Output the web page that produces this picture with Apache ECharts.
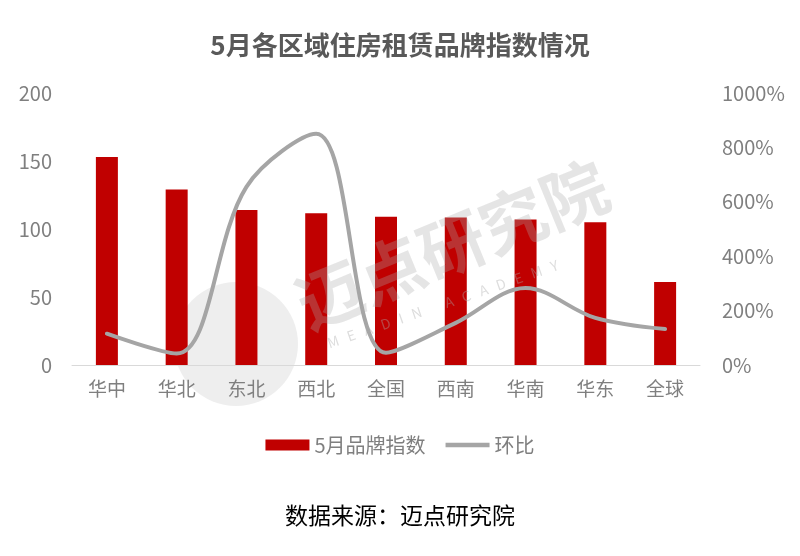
<!DOCTYPE html>
<html><head><meta charset="utf-8">
<script src="https://cdn.jsdelivr.net/npm/echarts@6/dist/echarts.min.js"></script>
<style>html,body{margin:0;padding:0;background:#fff}#c{width:800px;height:556px}</style>
</head><body><div id="c"></div>
<script>
const categories = ['华中','华北','东北','西北','全国','西南','华南','华东','全球'];
const brandIndex = [153, 129, 114, 111.5, 109, 108.5, 107, 105, 61];
const momPct = [115, 42, 655, 850, 45, 155, 283, 173, 132];
const leftTicks = [0, 50, 100, 150, 200];
const rightTicks = [0, 200, 400, 600, 800, 1000];

const font = '"Noto Sans CJK SC", "Noto Sans", sans-serif';
const chart = echarts.init(document.getElementById('c'));
chart.setOption({
  backgroundColor: '#fff',
  animation: false,
  textStyle: { fontFamily: font },
  title: {
    text: '5月各区域住房租赁品牌指数情况',
    left: 'center', top: 27,
    textStyle: { fontSize: 26, fontWeight: 'bold', color: '#595959', fontFamily: font }
  },
  graphic: [
    { type: 'text', left: 'center', top: 504,
      style: { text: '数据来源：迈点研究院', fontSize: 23, fill: '#000', fontFamily: font } },
    { type: 'circle', shape: { cx: 236, cy: 344, r: 62 }, z: -1,
      style: { fill: 'rgba(200,200,200,0.3)' } },
    { type: 'text', x: 312, y: 338, rotation: 0.39, z: 10,
      style: { text: '迈点研究院', fontSize: 66, fontWeight: 'bold', fill: 'rgba(170,170,170,0.3)', fontFamily: font, textVerticalAlign: 'bottom' } },
    { type: 'text', x: 330, y: 350, rotation: 0.33, z: 10,
      style: { text: 'M   E   A   D   I   N        A   C   A   D   E   M   Y', fontSize: 14, fill: 'rgba(170,170,170,0.4)', fontFamily: font, textVerticalAlign: 'bottom' } }
  ],
  legend: {
    bottom: 96, left: 'center', itemGap: 20,
    itemWidth: 44, itemHeight: 11,
    textStyle: { fontSize: 20, color: '#7f7f7f', fontFamily: font },
    data: [
      { name: '5月品牌指数', icon: 'rect' },
      { name: '环比', icon: 'path://M0,0 L10,0 L10,1 L0,1 Z', itemStyle: { color: '#A5A5A5' } }
    ]
  },
  grid: { left: 72, right: 100, top: 93, bottom: 191, containLabel: false },
  xAxis: {
    type: 'category', data: categories,
    axisLine: { lineStyle: { color: '#d9d9d9', width: 1 } },
    axisTick: { show: false },
    axisLabel: { fontSize: 19, color: '#7f7f7f', margin: 14, fontFamily: font }
  },
  yAxis: [
    { type: 'value', min: leftTicks[0], max: leftTicks[leftTicks.length-1], interval: 50,
      splitLine: { show: false }, axisLine: { show: false }, axisTick: { show: false },
      axisLabel: { fontSize: 20, color: '#7f7f7f', margin: 20, fontFamily: font } },
    { type: 'value', min: rightTicks[0], max: rightTicks[rightTicks.length-1], interval: 200,
      splitLine: { show: false }, axisLine: { show: false }, axisTick: { show: false },
      axisLabel: { fontSize: 20, color: '#7f7f7f', margin: 22, formatter: function (v) { return v + '%'; }, fontFamily: font } }
  ],
  series: [
    { name: '5月品牌指数', type: 'bar', data: brandIndex, barWidth: 22,
      itemStyle: { color: '#C00000' } },
    { name: '环比', type: 'line', yAxisIndex: 1, data: momPct, smooth: 0.35,
      showSymbol: false, symbol: 'none',
      lineStyle: { color: '#A5A5A5', width: 4, cap: 'round' },
      itemStyle: { color: '#A5A5A5' } }
  ]
});
</script></body></html>
